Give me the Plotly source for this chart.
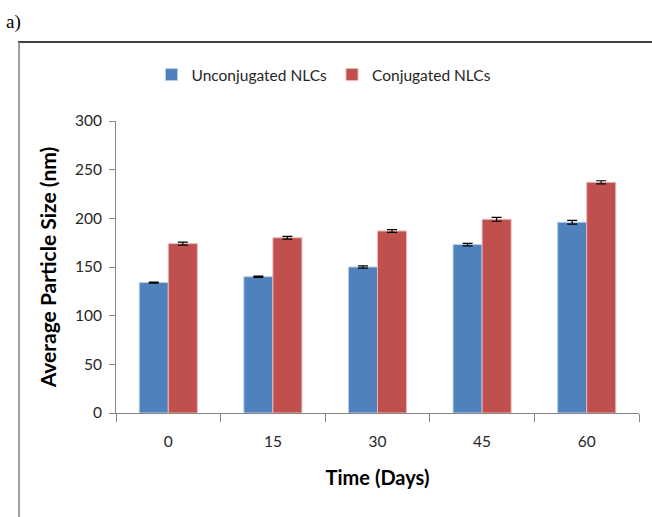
import plotly.graph_objects as go

# Particle size over storage time
days = ["0", "15", "30", "45", "60"]
unconjugated = [134, 140, 150, 173, 196]
unconjugated_err = [0.6, 0.6, 1.2, 1.2, 2.0]
conjugated = [174, 180, 187, 199, 237]
conjugated_err = [1.6, 1.4, 1.4, 2.0, 1.6]

W, H = 652, 517
L, R, T, B = 116, 13, 121, 104
pw = W - L - R
ph = H - T - B

def px(x):
    return (x - L) / pw

def py(y):
    return (H - B - y) / ph

font_main = "Lato, Open Sans, sans-serif"

fig = go.Figure()
fig.add_trace(go.Bar(
    name="Unconjugated NLCs", x=days, y=unconjugated,
    marker=dict(color="#4F81BD", line=dict(color="#B9CDE5", width=1)),
    error_y=dict(type="data", array=unconjugated_err, color="black", thickness=1.2, width=5),
))
fig.add_trace(go.Bar(
    name="Conjugated NLCs", x=days, y=conjugated,
    marker=dict(color="#C0504D", line=dict(color="#E6B9B8", width=1)),
    error_y=dict(type="data", array=conjugated_err, color="black", thickness=1.2, width=5),
))

fig.update_layout(
    width=W, height=H,
    margin=dict(l=L, r=R, t=T, b=B),
    paper_bgcolor="white", plot_bgcolor="white",
    barmode="group", bargap=0.445, bargroupgap=0,
    showlegend=True,
    legend=dict(orientation="h", x=px(324), xanchor="center", y=py(75), yanchor="middle",
                font=dict(family=font_main, size=15.5, color="#262626"),
                itemwidth=30, traceorder="normal", tracegroupgap=0),
    xaxis=dict(
        showline=True, linecolor="#868686", linewidth=1,
        ticks="outside", tickson="boundaries", ticklen=8, tickcolor="#868686",
        ticklabelstandoff=14,
        tickfont=dict(family=font_main, size=15.5, color="#262626"),
        title=dict(text="<b>Time (Days)</b>", font=dict(family=font_main, size=20, color="black"),
                   standoff=22),
        showgrid=False,
    ),
    yaxis=dict(
        range=[0, 300], dtick=50,
        showline=True, linecolor="#868686", linewidth=1,
        ticks="outside", ticklen=6, tickcolor="#868686",
        ticklabelstandoff=4,
        tickfont=dict(family=font_main, size=15.5, color="#262626"),
        title=dict(text="<b>Average Particle Size (nm)</b>",
                   font=dict(family=font_main, size=21, color="black"),
                   standoff=12),
        showgrid=False, zeroline=False,
    ),
    shapes=[
        dict(type="line", xref="paper", yref="paper", x0=px(18), x1=px(652), y0=py(42), y1=py(42),
             line=dict(color="black", width=1.3)),
        dict(type="line", xref="paper", yref="paper", x0=px(19), x1=px(19), y0=py(42), y1=py(517),
             line=dict(color="#808080", width=1.5)),
    ],
    annotations=[
        dict(text="a)", xref="paper", yref="paper", x=px(4), y=py(22), xanchor="left", yanchor="middle",
             showarrow=False, font=dict(family="Liberation Serif, Times New Roman, serif", size=19, color="black")),
    ],
)

fig.write_html("out.html")
